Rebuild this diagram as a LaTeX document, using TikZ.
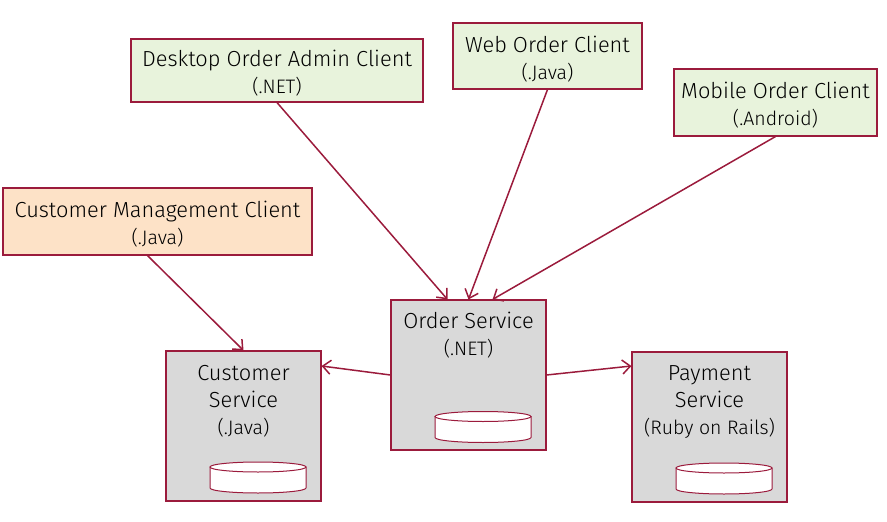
\documentclass[tikz,border=0pt]{standalone}
\usepackage{fontspec}
\setmainfont{Fira Sans}[UprightFont=* Light]
\usetikzlibrary{arrows.meta,calc}
\definecolor{bord}{RGB}{155,27,60}
\definecolor{cgreen}{RGB}{232,243,220}
\definecolor{cpeach}{RGB}{253,226,199}
\definecolor{cgray}{RGB}{217,217,217}
\newcommand\subl[1]{{\fontsize{19.5}{27}\selectfont #1}}
\newcommand\dbcyl[2]{%
  \filldraw[cyl] (#1-48,#2) -- (#1-48,#2+21) arc[start angle=180,end angle=360,x radius=48pt,y radius=5pt] -- (#1+48,#2) -- cycle;
  \filldraw[cyl] (#1,#2) ellipse[x radius=48pt,y radius=5pt];}
\begin{document}
\begin{tikzpicture}[x=1pt,y=-1pt,
  box/.style={draw=bord,line width=1.1pt,inner sep=0pt},
  client/.style={box,fill=cgreen},
  mgmt/.style={box,fill=cpeach},
  service/.style={box,fill=cgray,minimum width=155pt,minimum height=150pt},
  lbl/.style={align=center,font=\fontsize{21.8}{27}\selectfont,inner sep=0pt,text=black},
  cyl/.style={draw=bord,fill=white,line width=1pt},
  conn/.style={draw=bord,line width=1.5pt,-{Straight Barb[length=8pt,width=14pt,line width=1.5pt]}}
]
\useasboundingbox (0,0) rectangle (887,522);

% clients
\node[client,minimum width=292pt,minimum height=63pt] (desk) at (277,70.5) {};
\node[client,minimum width=189pt,minimum height=66pt] (web) at (547.5,56) {};
\node[client,minimum width=203pt,minimum height=67pt] (mobile) at (775.5,102.5) {};
\node[mgmt,minimum width=309pt,minimum height=67pt] (cm) at (157.5,221.5) {};

\node[lbl] (desklbl) at (277,73.5) {Desktop Order Admin Client\\\subl{(.NET)}};
\node[lbl] (weblbl) at (547.5,59) {Web Order Client\\\subl{(.Java)}};
\node[lbl] (mobilelbl) at (775.5,105.5) {Mobile Order Client\\\subl{(.Android)}};
\node[lbl] (cmlbl) at (157.5,224) {Customer Management Client\\\subl{(.Java)}};

% services
\node[service] (order) at (468.5,375) {};
\node[service] (cust) at (243.5,426) {};
\node[service] (pay) at (709.5,427) {};

\node[lbl] (orderlbl) at (468.5,335.5) {Order Service\\\subl{(.NET)}};
\node[lbl] (custlbl) at (243.5,401) {Customer\\Service\\\subl{(.Java)}};
\node[lbl] (paylbl) at (709.5,402) {Payment\\Service\\\subl{(Ruby on Rails)}};

\dbcyl{483}{416.5}
\dbcyl{258}{467}
\dbcyl{724}{468}

% connectors
\draw[conn] (desk.south) -- ([xshift=-21pt]order.north);
\draw[conn] (web.south) -- (order.north);
\draw[conn] (mobile.south) -- ([xshift=24pt]order.north);
\draw[conn] ([xshift=-10pt]cm.south) -- (cust.north);
\draw[conn] (order.west) -- ([yshift=60pt]cust.east);
\draw[conn] (order.east) -- ([yshift=61pt]pay.west);
\end{tikzpicture}
\end{document}
